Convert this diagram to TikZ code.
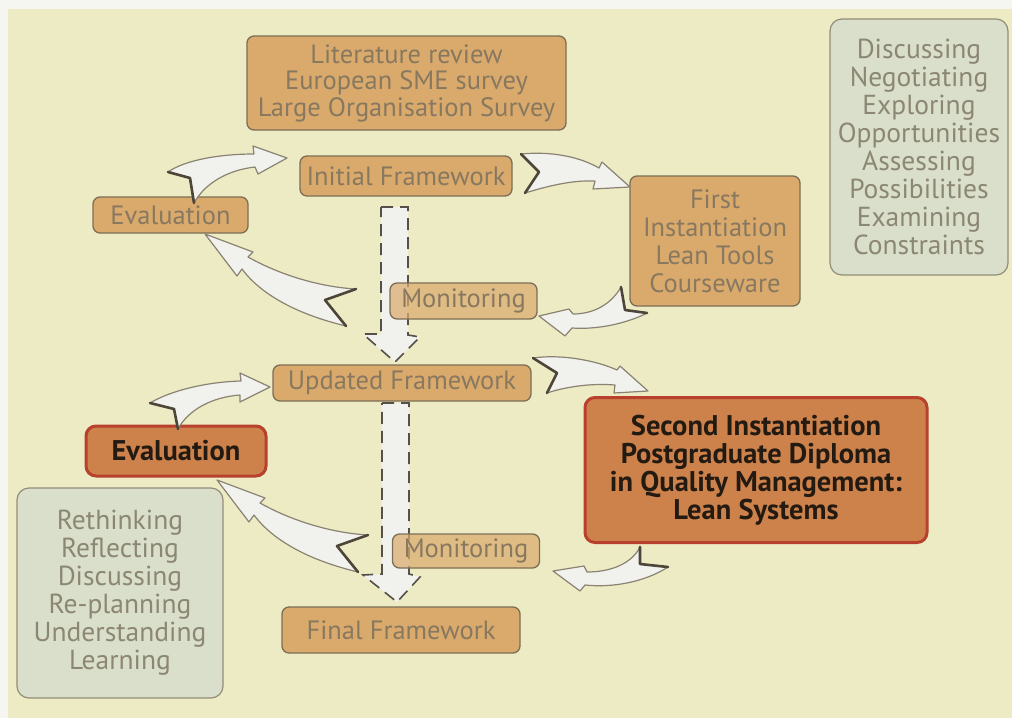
\documentclass[tikz,border=0pt]{standalone}
\usepackage{fontspec}
\setmainfont{PT Sans}
\definecolor{pagewhite}{HTML}{F5F5F2}
\definecolor{paper}{HTML}{ECEBC3}
\definecolor{tanfill}{HTML}{DAAA6C}
\definecolor{tanline}{HTML}{7D6E58}
\definecolor{tantext}{HTML}{887860}
\definecolor{orangefill}{HTML}{CD824B}
\definecolor{redline}{HTML}{B8412E}
\definecolor{darktext}{HTML}{231A12}
\definecolor{notefill}{HTML}{D9DFCB}
\definecolor{noteline}{HTML}{938D78}
\definecolor{notetext}{HTML}{8C8772}
\definecolor{arrowfill}{HTML}{F1F2EE}
\definecolor{arrowline}{HTML}{8A8272}
\definecolor{arrowdark}{HTML}{4D4539}
\definecolor{dashline}{HTML}{55504A}

\tikzset{
  tanbox/.style={draw=tanline, fill=tanfill, rounded corners=7pt, line width=1.3pt,
    text=tantext, inner sep=0pt, align=center,
    font=\fontsize{26.5}{26.5}\selectfont},
  boldbox/.style={draw=redline, fill=orangefill, rounded corners=10pt, line width=3pt,
    text=darktext, inner sep=0pt, align=center,
    font=\bfseries\fontsize{28.5}{28}\selectfont},
  notebox/.style={draw=noteline, fill=notefill, rounded corners=12pt, line width=1.2pt,
    text=notetext, inner sep=0pt, align=center,
    font=\fontsize{27.5}{28}\selectfont},
  blockarrow/.style={fill=arrowfill, draw=arrowline, line width=1.2pt, line join=round},
  notchedge/.style={draw=arrowdark, line width=2.6pt, line join=round, line cap=round},
  dasharrow/.style={fill=arrowfill, draw=dashline, line width=1.6pt, dash pattern=on 12pt off 7pt},
}

\begin{document}
\begin{tikzpicture}[x=1pt, y=-1pt]
  % page and paper
  \fill[pagewhite] (0,0) rectangle (1012,718);
  \fill[paper] (8,9) rectangle (1012,718);
  \useasboundingbox (0,0) rectangle (1012,718);

  % boxes of the cycle
  \node[tanbox, minimum width=319pt, minimum height=94pt] (lit) at (406.5,83)
    {Literature review\\European SME survey\\Large Organisation Survey};
  \node[tanbox, minimum width=212pt, minimum height=40pt] (init) at (406,176) {Initial Framework};
  \node[tanbox, minimum width=155pt, minimum height=36pt] (evalA) at (170.5,215) {Evaluation};
  \node[tanbox, minimum width=170pt, minimum height=130pt,
    font=\fontsize{26.5}{28}\selectfont] (first) at (715,241)
    {First\\Instantiation\\Lean Tools\\Courseware};
  \node[tanbox, minimum width=258pt, minimum height=36pt] (upd) at (402,383) {Updated Framework};
  \node[boldbox, minimum width=180pt, minimum height=50pt] (evalB) at (176,451) {Evaluation};
  \node[boldbox, minimum width=342pt, minimum height=145pt] (second) at (756,470)
    {Second Instantiation\\Postgraduate Diploma\\in Quality Management:\\Lean Systems};
  \node[tanbox, minimum width=238pt, minimum height=46pt] (final) at (401,630) {Final Framework};

  % activity lists
  \node[notebox, minimum width=178pt, minimum height=256pt] (acts) at (919,147)
    {Discussing\\Negotiating\\Exploring\\Opportunities\\Assessing\\Possibilities\\Examining\\Constraints};
  \node[notebox, minimum width=206pt, minimum height=210pt] (refl) at (120,593)
    {Rethinking\\Reflecting\\Discussing\\Re-planning\\Understanding\\Learning};

  % curved block arrows: evaluation -> framework
  \coordinate (a1t) at (168,172); \coordinate (a1n) at (190,178); \coordinate (a1b) at (194,203);
  \draw[blockarrow] (a1t) -- (a1n) -- (a1b) .. controls (205,183) and (228,170) .. (255,167)
    -- (258,174) -- (287,158) -- (253,146) -- (254,154)
    .. controls (220,154) and (185,160) .. cycle;
  \draw[notchedge] (a1t) -- (a1n) -- (a1b);

  \coordinate (a6t) at (150,403); \coordinate (a6n) at (174,409); \coordinate (a6b) at (178,429);
  \draw[blockarrow] (a6t) -- (a6n) -- (a6b) .. controls (188,410) and (212,397) .. (240,395)
    -- (240,402) -- (270,387) -- (240,373) -- (241,381)
    .. controls (205,382) and (170,391) .. cycle;
  \draw[notchedge] (a6t) -- (a6n) -- (a6b);

  % framework -> instantiation
  \coordinate (a2t) at (521,154); \coordinate (a2n) at (539,172); \coordinate (a2b) at (525,193);
  \draw[blockarrow] (a2t) -- (a2n) -- (a2b) .. controls (548,186) and (572,180) .. (595,181)
    -- (593,189) -- (630,187) -- (602,162) -- (599,168)
    .. controls (580,157) and (552,151) .. cycle;
  \draw[notchedge] (a2t) -- (a2n) -- (a2b);

  \coordinate (a7t) at (533,358); \coordinate (a7n) at (557,373); \coordinate (a7b) at (547,393);
  \draw[blockarrow] (a7t) -- (a7n) -- (a7b) .. controls (565,387) and (590,383) .. (615,385)
    -- (614,393) -- (648,391) -- (620,366) -- (617,370)
    .. controls (595,360) and (560,354) .. cycle;
  \draw[notchedge] (a7t) -- (a7n) -- (a7b);

  % instantiation -> monitoring
  \coordinate (a3t) at (621,287); \coordinate (a3n) at (625,310); \coordinate (a3b) at (647,313);
  \draw[blockarrow] (a3t) -- (a3n) -- (a3b) .. controls (630,322) and (600,330) .. (572,328)
    -- (565,336) -- (539,316) -- (569,309) -- (573,314)
    .. controls (595,314) and (612,303) .. cycle;
  \draw[notchedge] (a3t) -- (a3n) -- (a3b);

  \coordinate (a8t) at (640,547); \coordinate (a8n) at (640,564); \coordinate (a8b) at (668,567);
  \draw[blockarrow] (a8t) -- (a8n) -- (a8b) .. controls (645,582) and (612,588) .. (585,585)
    -- (580,591) -- (553,571) -- (584,566) -- (587,572)
    .. controls (612,572) and (632,563) .. cycle;
  \draw[notchedge] (a8t) -- (a8n) -- (a8b);

  % monitoring -> evaluation
  \coordinate (a4t) at (356,289); \coordinate (a4n) at (325,300); \coordinate (a4b) at (346,326);
  \draw[blockarrow] (a4t) -- (a4n) -- (a4b) .. controls (300,315) and (262,296) .. (242,269)
    -- (237,276) -- (205,234) -- (253,252) -- (248,257)
    .. controls (280,275) and (320,287) .. cycle;
  \draw[notchedge] (a4t) -- (a4n) -- (a4b);

  \coordinate (a9t) at (368,535); \coordinate (a9n) at (337,546); \coordinate (a9b) at (358,572);
  \draw[blockarrow] (a9t) -- (a9n) -- (a9b) .. controls (312,561) and (274,542) .. (254,515)
    -- (249,522) -- (217,480) -- (265,498) -- (260,503)
    .. controls (292,521) and (332,533) .. cycle;
  \draw[notchedge] (a9t) -- (a9n) -- (a9b);

  % dashed downward arrows between frameworks
  \draw[dasharrow] (381,207) -- (408,207) -- (408,335) -- (420,337) -- (395,362)
    -- (363,334) -- (381,334) -- cycle;
  \draw[dasharrow] (382,403) -- (409,403) -- (409,574) -- (420,577) -- (397,602)
    -- (363,575) -- (382,574) -- cycle;

  % monitoring steps, laid over the dashed arrows
  \node[tanbox, fill opacity=0.72, text opacity=1, minimum width=147pt, minimum height=36pt]
    (monA) at (463.5,301) {Monitoring};
  \node[tanbox, fill opacity=0.72, text opacity=1, minimum width=147pt, minimum height=34pt]
    (monB) at (466,551) {Monitoring};
\end{tikzpicture}
\end{document}
